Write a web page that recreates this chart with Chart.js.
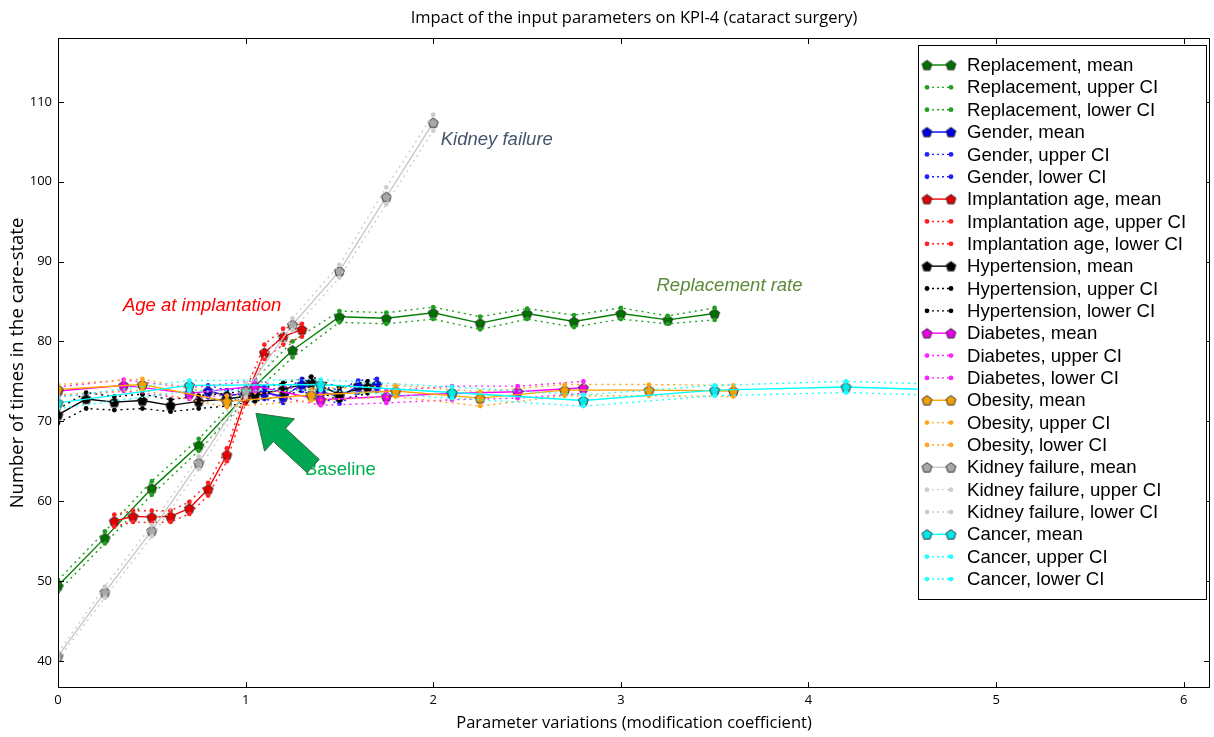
<!DOCTYPE html>
<html>
<head>
<meta charset="utf-8">
<script src="https://cdn.jsdelivr.net/npm/chart.js@4.4.1/dist/chart.umd.min.js"></script>
<style>
  html, body { margin: 0; padding: 0; background: #fff; overflow: hidden; }
  canvas { display: block; }
</style>
</head>
<body>
<canvas id="kpiChart" width="1214" height="737"></canvas>
<script>
// ---------------- data ----------------
const replX     = [0, 0.25, 0.5, 0.75, 1, 1.25, 1.5, 1.75, 2, 2.25, 2.5, 2.75, 3, 3.25, 3.5];
const replMean  = [49.4, 55.4, 61.6, 67.0, 73.3, 78.9, 83.1, 82.9, 83.6, 82.3, 83.5, 82.5, 83.5, 82.7, 83.5];
const replUpper = [50.1, 56.2, 62.5, 67.8, 74.0, 80.0, 83.8, 83.6, 84.3, 83.1, 84.1, 83.3, 84.2, 83.2, 84.2];
const replLower = [48.7, 54.7, 60.8, 66.3, 72.6, 78.0, 82.4, 82.2, 82.8, 81.5, 82.8, 81.8, 82.8, 82.2, 82.7];

const genderX     = [0.8, 0.9, 1, 1.1, 1.2, 1.3, 1.4, 1.5, 1.6, 1.7];
const genderMean  = [73.8, 73.2, 73.5, 73.6, 73.1, 74.6, 73.7, 73.1, 74.4, 74.6];
const genderUpper = [74.5, 73.9, 74.2, 74.3, 73.8, 75.3, 74.4, 73.9, 75.1, 75.3];
const genderLower = [73.0, 72.4, 72.8, 72.8, 72.3, 73.8, 72.9, 72.2, 73.6, 73.8];

const ageX     = [0.3, 0.4, 0.5, 0.6, 0.7, 0.8, 0.9, 1, 1.1, 1.2, 1.3];
const ageMean  = [57.5, 58.1, 58.0, 58.1, 59.1, 61.5, 65.8, 73.0, 78.6, 80.6, 81.5];
const ageUpper = [58.3, 58.8, 58.8, 58.8, 59.9, 62.3, 66.6, 73.8, 79.6, 81.6, 82.2];
const ageLower = [56.8, 57.4, 57.3, 57.4, 58.4, 60.7, 65.0, 72.2, 77.8, 79.6, 80.6];

const hyperX     = [0, 0.15, 0.3, 0.45, 0.6, 0.75, 0.9, 1.05, 1.2, 1.35, 1.5, 1.65];
const hyperMean  = [70.8, 72.8, 72.4, 72.6, 72.0, 72.5, 72.8, 73.3, 74.0, 74.9, 73.4, 74.3];
const hyperUpper = [71.5, 73.6, 73.1, 73.4, 72.7, 73.2, 73.5, 74.0, 74.8, 75.6, 74.2, 75.0];
const hyperLower = [69.8, 71.6, 71.4, 71.6, 71.2, 71.6, 71.9, 72.5, 73.2, 74.1, 72.6, 73.5];

const diabX     = [0, 0.35, 0.7, 1.05, 1.4, 1.75, 2.1, 2.45, 2.8];
const diabMean  = [73.8, 74.5, 73.5, 74.4, 72.7, 73.1, 73.5, 73.7, 74.2];
const diabUpper = [74.3, 75.2, 74.2, 75.1, 73.4, 73.8, 74.4, 74.4, 75.0];
const diabLower = [73.1, 73.8, 72.8, 73.7, 72.0, 72.3, 72.7, 72.9, 73.5];

const obesX     = [0, 0.45, 0.9, 1.35, 1.8, 2.25, 2.7, 3.15, 3.6];
const obesMean  = [74.0, 74.6, 72.5, 73.3, 73.8, 72.9, 73.9, 73.9, 73.8];
const obesUpper = [74.6, 75.3, 73.2, 74.0, 74.5, 73.7, 74.6, 74.6, 74.5];
const obesLower = [73.3, 73.9, 71.8, 72.6, 73.1, 71.9, 73.2, 73.2, 73.1];

const kidneyX     = [0, 0.25, 0.5, 0.75, 1, 1.25, 1.5, 1.75, 2];
const kidneyMean  = [40.6, 48.6, 56.3, 64.8, 73.8, 82.1, 88.8, 98.1, 107.4];
const kidneyUpper = [41.0, 49.3, 57.0, 65.6, 74.8, 82.9, 89.6, 99.3, 108.4];
const kidneyLower = [40.2, 47.9, 55.6, 64.0, 73.0, 81.4, 88.0, 97.2, 106.4];

const cancerX     = [0, 0.7, 1.4, 2.1, 2.8, 3.5, 4.2, 4.9];
const cancerMean  = [72.3, 74.5, 74.6, 73.6, 72.6, 73.9, 74.3, 73.8];
const cancerUpper = [73.0, 75.1, 75.2, 74.3, 73.3, 74.5, 75.0, 74.5];
const cancerLower = [71.6, 73.8, 73.9, 72.9, 71.9, 73.2, 73.6, 73.1];

const xTicks = [0, 1, 2, 3, 4, 5, 6];
const yTicks = [40, 50, 60, 70, 80, 90, 100, 110];

// ---------------- series setup ----------------
const series = [
  { name: 'Replacement',       line: '#008000', marker: '#007000', ci: '#20a020', x: replX,   mean: replMean,   upper: replUpper,   lower: replLower },
  { name: 'Gender',            line: '#0000ff', marker: '#0000e0', ci: '#2020ff', x: genderX, mean: genderMean, upper: genderUpper, lower: genderLower },
  { name: 'Implantation age',  line: '#ff0000', marker: '#e00000', ci: '#ff2020', x: ageX,    mean: ageMean,    upper: ageUpper,    lower: ageLower },
  { name: 'Hypertension',      line: '#000000', marker: '#000000', ci: '#000000', x: hyperX,  mean: hyperMean,  upper: hyperUpper,  lower: hyperLower },
  { name: 'Diabetes',          line: '#ff00ff', marker: '#e800e8', ci: '#ff20ff', x: diabX,   mean: diabMean,   upper: diabUpper,   lower: diabLower },
  { name: 'Obesity',           line: '#ffa500', marker: '#f0a000', ci: '#ffa520', x: obesX,   mean: obesMean,   upper: obesUpper,   lower: obesLower },
  { name: 'Kidney failure',    line: '#c8c8c8', marker: '#a8a8a8', ci: '#cccccc', x: kidneyX, mean: kidneyMean, upper: kidneyUpper, lower: kidneyLower },
  { name: 'Cancer',            line: '#00ffff', marker: '#00e8e8', ci: '#20ffff', x: cancerX, mean: cancerMean, upper: cancerUpper, lower: cancerLower }
];

function pentagon(fill) {
  const c = document.createElement('canvas');
  c.width = 13; c.height = 13;
  const g = c.getContext('2d');
  g.beginPath();
  for (let i = 0; i < 5; i++) {
    const a = -Math.PI / 2 + i * 2 * Math.PI / 5;
    const px = 6.5 + 5.2 * Math.cos(a), py = 7 + 5.2 * Math.sin(a);
    if (i) g.lineTo(px, py); else g.moveTo(px, py);
  }
  g.closePath();
  g.fillStyle = fill; g.fill();
  g.strokeStyle = '#333'; g.lineWidth = 1; g.stroke();
  return c;
}

function pts(xs, ys) {
  return xs.map((x, i) => ({ x: x, y: ys[i] }));
}

const datasets = [];
series.forEach((s, k) => {
  const marker = pentagon(s.marker);
  datasets.push({
    label: s.name + ', mean', kind: 'mean', marker: marker,
    data: pts(s.x, s.mean), borderColor: s.line, backgroundColor: s.marker,
    borderWidth: 1.4, pointStyle: marker, pointRadius: 3, pointBorderWidth: 0,
    pointHoverRadius: 0, order: 100 - k * 3
  });
  ['upper', 'lower'].forEach((b, j) => {
    datasets.push({
      label: s.name + ', ' + b + ' CI', kind: 'ci',
      data: pts(s.x, s[b]), borderColor: s.ci, backgroundColor: s.ci,
      borderWidth: 1.4, borderDash: [2, 4], pointStyle: 'circle', pointRadius: 2.4,
      pointBorderWidth: 0, pointHoverRadius: 0, pointBackgroundColor: s.ci, order: 100 - k * 3 - j - 1
    });
  });
});

// ---------------- extras: frame, inward ticks, notes, arrow, legend ----------------
const extras = {
  id: 'extras',
  afterDatasetsDraw(chart) {
    const { ctx, chartArea: a, scales: { x, y } } = chart;
    ctx.save();
    // frame and inward ticks
    ctx.strokeStyle = '#000'; ctx.lineWidth = 1;
    ctx.strokeRect(a.left + 0.5, a.top + 0.5, a.right - a.left - 1, a.bottom - a.top - 1);
    ctx.beginPath();
    xTicks.forEach(v => {
      const px = Math.round(x.getPixelForValue(v)) + 0.5;
      ctx.moveTo(px, a.bottom); ctx.lineTo(px, a.bottom - 6);
      ctx.moveTo(px, a.top); ctx.lineTo(px, a.top + 6);
    });
    yTicks.forEach(v => {
      const py = Math.round(y.getPixelForValue(v)) + 0.5;
      ctx.moveTo(a.left, py); ctx.lineTo(a.left + 6, py);
      ctx.moveTo(a.right, py); ctx.lineTo(a.right - 6, py);
    });
    ctx.stroke();

    // title
    ctx.fillStyle = '#000';
    ctx.font = '16.5px "Open Sans"';
    ctx.textAlign = 'center'; ctx.textBaseline = 'middle';
    ctx.fillText('Impact of the input parameters on KPI-4 (cataract surgery)', (a.left + a.right) / 2, 18);

    // notes
    ctx.textAlign = 'left';
    ctx.font = 'italic 18.5px "Liberation Sans", Arial';
    ctx.fillStyle = '#44546a';
    ctx.fillText('Kidney failure', x.getPixelForValue(2.04), y.getPixelForValue(105.3));
    ctx.fillStyle = '#5b8a3a';
    ctx.fillText('Replacement rate', x.getPixelForValue(3.19), y.getPixelForValue(86.9));
    ctx.fillStyle = '#ff0000';
    ctx.fillText('Age at implantation', x.getPixelForValue(0.346), y.getPixelForValue(84.4));
    ctx.font = '18.5px "Liberation Sans", Arial';
    ctx.fillStyle = '#00b050';
    ctx.fillText('Baseline', x.getPixelForValue(1.316), y.getPixelForValue(63.9));

    // arrow pointing at the baseline
    const tip = { x: x.getPixelForValue(1.055), y: y.getPixelForValue(71.0) };
    const tail = { x: x.getPixelForValue(1.36), y: y.getPixelForValue(64.4) };
    const dx = tip.x - tail.x, dy = tip.y - tail.y, len = Math.hypot(dx, dy);
    const ux = dx / len, uy = dy / len, nx = -uy, ny = ux;
    const hl = 32, hw = 22, sw = 9;
    const bx = tip.x - ux * hl, by = tip.y - uy * hl;
    ctx.beginPath();
    ctx.moveTo(tip.x, tip.y);
    ctx.lineTo(bx + nx * hw, by + ny * hw);
    ctx.lineTo(bx + nx * sw, by + ny * sw);
    ctx.lineTo(tail.x + nx * sw, tail.y + ny * sw);
    ctx.lineTo(tail.x - nx * sw, tail.y - ny * sw);
    ctx.lineTo(bx - nx * sw, by - ny * sw);
    ctx.lineTo(bx - nx * hw, by - ny * hw);
    ctx.closePath();
    ctx.fillStyle = '#00a651'; ctx.fill();
    ctx.strokeStyle = '#2e6b3f'; ctx.lineWidth = 1; ctx.stroke();
    ctx.restore();
  },
  afterDraw(chart) {
    const { ctx, chartArea: a } = chart;
    const box = { left: a.right - 292, top: a.top + 7, right: a.right - 3, bottom: a.top + 562 };
    ctx.save();
    ctx.fillStyle = '#fff';
    ctx.fillRect(box.left, box.top, box.right - box.left, box.bottom - box.top);
    ctx.strokeStyle = '#000'; ctx.lineWidth = 1;
    ctx.strokeRect(box.left + 0.5, box.top + 0.5, box.right - box.left - 1, box.bottom - box.top - 1);
    ctx.font = '18.6px "Liberation Sans", Arial';
    ctx.textAlign = 'left'; ctx.textBaseline = 'middle';
    chart.data.datasets.forEach((d, i) => {
      const cy = box.top + 20 + i * 22.35;
      const x0 = box.left + 9, x1 = box.left + 33;
      ctx.beginPath();
      ctx.strokeStyle = d.borderColor; ctx.lineWidth = 1.4;
      ctx.setLineDash(d.kind === 'mean' ? [] : [2, 3]);
      ctx.moveTo(x0, cy); ctx.lineTo(x1, cy); ctx.stroke();
      ctx.setLineDash([]);
      [x0, x1].forEach(px => {
        if (d.kind === 'mean') {
          ctx.drawImage(d.marker, px - 6.5, cy - 6.5);
        } else {
          ctx.beginPath(); ctx.fillStyle = d.backgroundColor;
          ctx.arc(px, cy, 2.4, 0, Math.PI * 2); ctx.fill();
        }
      });
      ctx.fillStyle = '#000';
      ctx.fillText(d.label, box.left + 49, cy + 1);
    });
    ctx.restore();
  }
};

new Chart(document.getElementById('kpiChart'), {
  type: 'line',
  data: { datasets: datasets },
  options: {
    responsive: false,
    animation: false,
    events: [],
    layout: { padding: { top: 38, right: 4, left: 0, bottom: 0 } },
    elements: { line: { tension: 0, fill: false } },
    plugins: { legend: { display: false }, tooltip: { enabled: false } },
    scales: {
      x: {
        type: 'linear', min: 0, max: 6.14,
        afterFit: s => { s.height = 49; s.paddingLeft = 0; s.paddingRight = 0; },
        grid: { display: false, drawTicks: false },
        border: { display: false },
        ticks: { stepSize: 1, includeBounds: false, padding: 4, color: '#000', font: { family: 'Open Sans', size: 13 } },
        title: { display: true, text: 'Parameter variations (modification coefficient)', color: '#000',
                 font: { family: 'Open Sans', size: 16.5 }, padding: { top: 4, bottom: 4 } }
      },
      y: {
        type: 'linear', min: 36.6, max: 118,
        afterFit: s => { s.width = 58; s.paddingTop = 0; s.paddingBottom = 0; },
        grid: { display: false, drawTicks: false },
        border: { display: false },
        ticks: { stepSize: 10, includeBounds: false, padding: 6, color: '#000', font: { family: 'Open Sans', size: 13 } },
        title: { display: true, text: 'Number of times in the care-state', color: '#000',
                 font: { family: 'Open Sans', size: 18.5 }, padding: { top: 7, bottom: 7 } }
      }
    }
  },
  plugins: [extras]
});
</script>
</body>
</html>
